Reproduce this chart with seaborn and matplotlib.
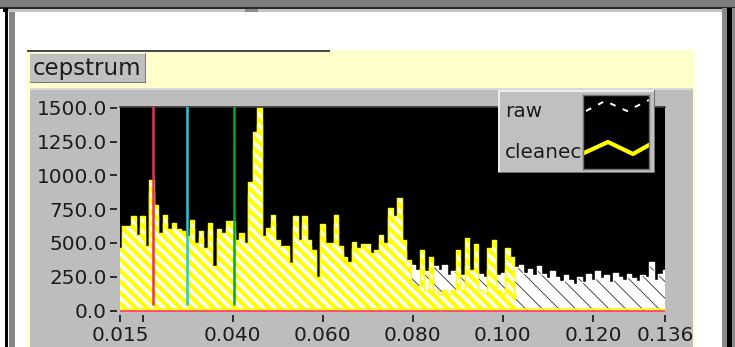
import numpy as np
import matplotlib
matplotlib.use('Agg')
import matplotlib.pyplot as plt
from matplotlib.patches import Rectangle
import seaborn as sns

# ── 1. DATA ───────────────────────────────
q_start = 0.015
q_step = 0.001

# raw cepstrum (white), one value per 0.001 s
raw = [420, 580, 560, 640, 520, 610, 430, 880, 700, 520,
       650, 560, 590, 540, 530, 500, 610, 420, 540, 400,
       590, 300, 540, 520, 600, 590, 470, 520, 450, 860,
       1200, 1380, 500, 550, 640, 470, 430, 420, 330, 620,
       470, 630, 470, 410, 240, 580, 450, 460, 640, 430,
       370, 330, 460, 420, 440, 450, 390, 410, 500, 450,
       690, 630, 700, 450, 350, 340, 300, 330, 290, 320,
       330, 300, 340, 260, 290, 310, 260, 330, 280, 300,
       270, 250, 300, 290, 260, 280, 310, 300, 320, 340,
       280, 310, 260, 330, 270, 240, 290, 250, 220, 260,
       230, 200, 250, 210, 270, 230, 290, 240, 260, 210,
       280, 250, 230, 270, 240, 220, 260, 250, 360, 230,
       270, 300]

# cleaned cepstrum (yellow), stops around 0.104
cleaned = [465, 623, 623, 697, 560, 697, 475, 968, 783, 573,
           710, 600, 650, 600, 590, 550, 672, 500, 590, 465,
           650, 330, 600, 573, 660, 660, 525, 573, 500, 950,
           1320, 1500, 550, 610, 710, 525, 475, 475, 355, 697,
           525, 697, 525, 450, 250, 640, 500, 500, 710, 475,
           400, 360, 510, 465, 490, 490, 425, 450, 560, 500,
           760, 697, 835, 525, 375, 200, 180, 450, 150, 400,
           150, 120, 150, 120, 150, 450, 150, 540, 300, 490,
           150, 130, 465, 525, 150, 120, 465, 400, 120]

cursors = [0.0224, 0.0299, 0.0402]
cursor_colors = ['#e8305c', '#22ccdd', '#00a836']

x_ticks = [0.015, 0.020, 0.040, 0.060, 0.080, 0.100, 0.120, 0.136]
x_labels = ['0.015', '', '0.040', '0.060', '0.080', '0.100', '0.120', '0.136']
y_ticks = [0, 250, 500, 750, 1000, 1250, 1500]
y_labels = ['0.0', '250.0', '500.0', '750.0', '1000.0', '1250.0', '1500.0']

q_raw = q_start + q_step * np.arange(len(raw))
q_clean = q_start + q_step * np.arange(len(cleaned))

# ── 2. FIGURE + PANEL DECORATION ──────────
W, H = 735, 347
fig = plt.figure(figsize=(W / 100, H / 100), dpi=100)
fig.patch.set_facecolor('white')
TXT = '#1c1c1c'


def box(x, y, w, h, color, z=1, **kw):
    # rectangle given in screen pixels from top-left
    fig.patches.append(Rectangle((x / W, 1 - (y + h) / H), w / W, h / H,
                                 transform=fig.transFigure, facecolor=color,
                                 edgecolor='none', zorder=z, **kw))


# window frame
box(0, 0, W, 7, '#7c7c7c')
box(0, 7, W, 1.5, '#2a2a2a')
box(8, 8.5, W - 8, 3.5, '#c4c4c4')
box(245, 8.5, 13, 3.5, '#8a8a8a')
box(3, 8, 5, 4, '#000000')
box(5, 8, 2.5, H, '#000000')
box(9, 12, 6, H, '#858585')
box(722, 8, 5, H, '#8a8a8a')
box(727, 8, 5, H, '#000000')
box(732, 8, 3, H, '#8a8a8a')

# front panel
box(27, 50, 668, H - 50, '#ffffcc')
box(27, 50, 303, 2, '#4a4a4a')
box(30, 53, 116, 30, '#c0c0c0')
box(30, 53, 116, 1, '#f0f0f0')
box(145, 53, 1, 30, '#7a7a7a')
box(30, 82, 116, 1, '#7a7a7a')
fig.text(33 / W, 1 - 68 / H, 'cepstrum', fontsize=16.5, color=TXT,
         va='center', ha='left')
box(30, 88, 663, H - 88, '#bdbdbd')
box(30, 88, 663, 1.5, '#d8d8d8')

# ── 3. PLOT AREA ──────────────────────────
ax = fig.add_axes([120 / W, 35 / H, 545 / W, 205 / H])
ax.set_zorder(5)
ax.set_facecolor('black')

plt.rcParams['hatch.linewidth'] = 0.6
ax.fill_between(q_raw, raw, step='mid', facecolor='white',
                edgecolor='#303030', hatch='\\\\', linewidth=0, zorder=2)
sns.lineplot(x=q_raw, y=raw, drawstyle='steps-mid', color='white',
             linewidth=1, ax=ax, legend=False, zorder=3)
plt.rcParams['hatch.linewidth'] = 2.6
ax.fill_between(q_clean, cleaned, step='mid', facecolor='#ffff00',
                edgecolor='white', hatch='\\\\\\', linewidth=0, zorder=4)
sns.lineplot(x=q_clean, y=cleaned, drawstyle='steps-mid', color='#ffff00',
             linewidth=1, ax=ax, legend=False, zorder=5)

ax.axhline(9, color='#ffff00', linewidth=1.2, zorder=6)
ax.axhline(0, color='#ff4a6e', linewidth=2, zorder=7)
ax.vlines(cursors, 40, 1510, colors=cursor_colors, linewidth=1.8, zorder=8)

ax.set_xlim(0.015, 0.136)
ax.set_ylim(-10, 1505)
ax.set_xlabel('')
ax.set_ylabel('')

for s in ['right', 'left', 'bottom']:
    ax.spines[s].set_visible(False)
ax.spines['top'].set_color('#3a3a3a')
ax.spines['top'].set_linewidth(1.2)
ax.spines['left'].set_position(('outward', 2.2))
ax.spines['bottom'].set_position(('outward', 2.2))

ax.set_xticks(x_ticks, x_labels)
ax.set_yticks(y_ticks, y_labels)
ax.tick_params(axis='both', direction='out', length=5.2, width=1.3,
               color='#202020', labelcolor=TXT, labelsize=14.4)
ax.tick_params(axis='x', pad=3)
ax.tick_params(axis='y', pad=2)

# ── 4. LEGEND ─────────────────────────────
box(498, 90, 157, 83, '#c0c0c0', z=10)
box(498, 90, 157, 1.5, '#ececec', z=11)
box(498, 90, 1.5, 83, '#ececec', z=11)
box(653.5, 90, 1.5, 83, '#6e6e6e', z=11)
box(498, 171.5, 157, 1.5, '#6e6e6e', z=11)
fig.text(505 / W, 1 - 111 / H, 'raw', fontsize=14.4, color=TXT,
         va='center', ha='left', zorder=12)
fig.text(505 / W, 1 - 152 / H, 'cleanec', fontsize=14.4, color=TXT,
         va='center', ha='left', zorder=12)

sw = fig.add_axes([583 / W, 1 - 169 / H, 66 / W, 74 / H])
sw.set_zorder(12)
sw.set_facecolor('black')
sw.set_xlim(0, 66)
sw.set_ylim(74, 0)
sw.plot([3, 22, 44, 66], [16, 6, 16, 5], color='white', linewidth=1.4,
        dashes=(3, 4))
sw.plot([1, 25, 50, 66], [58, 47, 59, 50], color='#ffff00', linewidth=3)
sw.set_xticks([])
sw.set_yticks([])
for s in sw.spines.values():
    s.set_color('#707070')
    s.set_linewidth(1)

fig.savefig('out.png', dpi=100, facecolor=fig.get_facecolor())
